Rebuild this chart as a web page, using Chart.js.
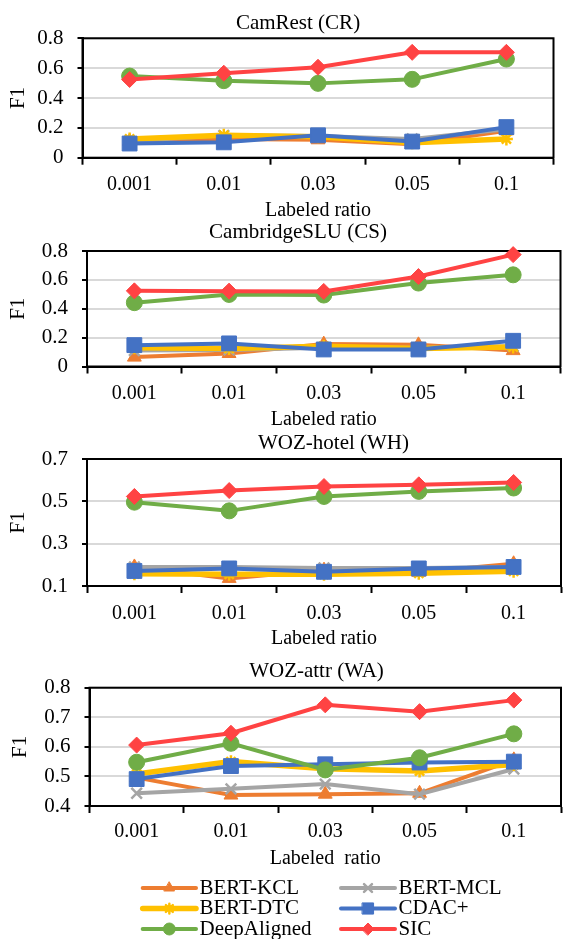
<!DOCTYPE html>
<html>
<head>
<meta charset="utf-8">
<script src="https://cdn.jsdelivr.net/npm/chart.js@4.4.0/dist/chart.umd.min.js"></script>
<style>
html, body { margin:0; padding:0; background:#fff; overflow:hidden; width:563px; height:939px; }
canvas { position:absolute; left:0; }
</style>
</head>
<body>
<canvas id="cr"></canvas>
<canvas id="cs"></canvas>
<canvas id="wh"></canvas>
<canvas id="wa"></canvas>
<script>
var categories = ['0.001', '0.01', '0.03', '0.05', '0.1'];
var seriesNames = ['BERT-KCL', 'BERT-MCL', 'BERT-DTC', 'CDAC+', 'DeepAligned', 'SIC'];

// CamRest (CR)
var kclCR  = [0.11, 0.125, 0.12, 0.09, 0.18];
var mclCR  = [0.11, 0.15, 0.145, 0.125, 0.19];
var dtcCR  = [0.125, 0.15, 0.14, 0.10, 0.125];
var cdacCR = [0.095, 0.103, 0.15, 0.108, 0.205];
var daCR   = [0.547, 0.516, 0.498, 0.525, 0.661];
var sicCR  = [0.524, 0.566, 0.606, 0.706, 0.706];
var yTicksCR = [0, 0.2, 0.4, 0.6, 0.8];

// CambridgeSLU (CS)
var kclCS  = [0.065, 0.09, 0.155, 0.15, 0.11];
var mclCS  = [0.11, 0.115, 0.13, 0.13, 0.14];
var dtcCS  = [0.13, 0.125, 0.14, 0.125, 0.135];
var cdacCS = [0.148, 0.16, 0.118, 0.118, 0.178];
var daCS   = [0.442, 0.499, 0.495, 0.578, 0.635];
var sicCS  = [0.524, 0.522, 0.52, 0.623, 0.775];
var yTicksCS = [0, 0.2, 0.4, 0.6, 0.8];

// WOZ-hotel (WH)
var kclWH  = [0.19, 0.136, 0.175, 0.165, 0.205];
var mclWH  = [0.19, 0.19, 0.185, 0.185, 0.19];
var dtcWH  = [0.158, 0.155, 0.155, 0.16, 0.17];
var cdacWH = [0.171, 0.183, 0.167, 0.183, 0.19];
var daWH   = [0.496, 0.455, 0.523, 0.547, 0.563];
var sicWH  = [0.523, 0.551, 0.570, 0.578, 0.589];
var yTicksWH = [0.1, 0.3, 0.5, 0.7];

// WOZ-attr (WA)
var kclWA  = [0.496, 0.437, 0.44, 0.443, 0.556];
var mclWA  = [0.443, 0.458, 0.474, 0.44, 0.525];
var dtcWA  = [0.508, 0.55, 0.526, 0.518, 0.54];
var cdacWA = [0.491, 0.535, 0.541, 0.547, 0.55];
var daWA   = [0.548, 0.612, 0.522, 0.563, 0.644];
var sicWA  = [0.606, 0.646, 0.742, 0.719, 0.758];
var yTicksWA = [0.4, 0.5, 0.6, 0.7, 0.8];

var colors = ['#ED7D31', '#A5A5A5', '#FFC000', '#4472C4', '#70AD47', '#FF4343'];
var markers = ['triangle', 'crossRot', 'star', 'rect', 'circle', 'rectRot'];
var markerSize = [8, 7.5, 6.5, 10.5, 8, 8];
var lineWidths = [4, 4, 5.5, 4, 4, 4];

var serif = "'Liberation Serif', 'Times New Roman', serif";
Chart.defaults.font.family = serif;
Chart.defaults.color = '#000';

// black frame round the plot area
var boxPlugin = {
  id: 'box',
  beforeDatasetsDraw: function(chart) {
    var a = chart.chartArea, ctx = chart.ctx;
    ctx.save();
    ctx.strokeStyle = '#000';
    ctx.lineWidth = 2;
    ctx.strokeRect(a.left, a.top, a.right - a.left, a.bottom - a.top);
    ctx.restore();
  }
};

// two-column legend under the last panel
var legendPlugin = {
  id: 'bottomLegend',
  afterDraw: function(chart) {
    var ctx = chart.ctx;
    var ds = chart.data.datasets;
    ctx.save();
    ctx.font = '21px ' + serif;
    ctx.textBaseline = 'middle';
    for (let i = 0; i < ds.length; i++) {
      var col = i % 2, row = Math.floor(i / 2);
      var x0 = col ? 341 : 142.7;
      var x1 = col ? 395 : 196;
      var y = 233 + row * 20.5;
      ctx.strokeStyle = ds[i].borderColor;
      ctx.fillStyle = ds[i].borderColor;
      ctx.lineWidth = ds[i].borderWidth;
      ctx.lineCap = 'round';
      ctx.beginPath();
      ctx.moveTo(x0, y);
      ctx.lineTo(x1, y);
      ctx.stroke();
      ctx.lineWidth = ds[i].pointBorderWidth;
      Chart.helpers.drawPoint(ctx, {
        pointStyle: ds[i].pointStyle,
        radius: ds[i].pointRadius * 0.75,
        borderWidth: ds[i].pointBorderWidth,
        rotation: 0
      }, (x0 + x1) / 2, y);
      ctx.fillStyle = '#000';
      ctx.fillText(ds[i].label, x1 + 3.5, y);
    }
    ctx.restore();
  }
};

function makeChart(id, g, title, values, yTicks, withLegend) {
  var cv = document.getElementById(id);
  cv.width = g.w;
  cv.height = g.h;
  cv.style.top = g.top + 'px';
  var datasets = [];
  for (let i = 0; i < values.length; i++) {
    var lineMarker = markers[i] == 'crossRot' || markers[i] == 'star';
    datasets.push({
      label: seriesNames[i],
      data: values[i],
      borderColor: colors[i],
      backgroundColor: colors[i],
      pointBackgroundColor: colors[i],
      pointBorderColor: colors[i],
      borderWidth: lineWidths[i],
      pointStyle: markers[i],
      pointRadius: markerSize[i],
      pointBorderWidth: lineMarker ? 2.5 : 1,
      tension: 0,
      clip: false,
      order: values.length - i
    });
  }
  return new Chart(cv, {
    type: 'line',
    data: { labels: categories, datasets: datasets },
    options: {
      responsive: false,
      animation: false,
      devicePixelRatio: 1,
      layout: { padding: { bottom: g.padBottom || 0 } },
      plugins: {
        legend: { display: false },
        tooltip: { enabled: false },
        title: {
          display: true, text: title, color: '#000',
          font: { size: 21, weight: 'normal' },
          padding: { top: g.tt, bottom: g.tb }
        }
      },
      scales: {
        x: {
          offset: true,
          grid: { offset: true, drawOnChartArea: false, tickLength: 7, tickColor: '#000', tickWidth: 2 },
          border: { color: '#000', width: 2 },
          ticks: { font: { size: 20 }, padding: g.xp, color: '#000', maxRotation: 0, autoSkip: false },
          title: { display: true, text: g.xTitle || 'Labeled ratio', color: '#000', font: { size: 20 }, padding: { bottom: 4 } },
          afterFit: function(s) { s.height = g.xh; }
        },
        y: {
          min: yTicks[0],
          max: yTicks[yTicks.length - 1],
          afterBuildTicks: function(s) { s.ticks = yTicks.map(function(v) { return { value: v }; }); },
          grid: { color: '#D9D9D9', lineWidth: 2, tickColor: '#000', tickLength: 5, tickWidth: 2 },
          border: { color: '#000', width: 2 },
          ticks: { font: { size: 21 }, padding: 14, color: '#000' },
          title: { display: true, text: 'F1', color: '#000', font: { size: 21 }, padding: { top: g.f1 } },
          afterFit: function(s) { s.width = g.left; }
        },
        pad: {
          type: 'linear', position: 'right', display: true,
          grid: { display: false }, border: { display: false }, ticks: { display: false },
          afterFit: function(s) { s.width = g.right; }
        }
      }
    },
    plugins: withLegend ? [boxPlugin, legendPlugin] : [boxPlugin]
  });
}

makeChart('cr', { top: 0, h: 227, w: 596, left: 82.5, right: 42.5, tt: 10.7, tb: 2.4, xh: 69.3, xp: 8.3, f1: 5.4 },
  'CamRest (CR)', [kclCR, mclCR, dtcCR, cdacCR, daCR, sicCR], yTicksCR, false);
makeChart('cs', { top: 215, h: 221, w: 596, left: 87, right: 35.5, tt: 4.4, tb: 6.4, xh: 69.5, xp: 8.5, f1: 5.4 },
  'CambridgeSLU (CS)', [kclCS, mclCS, dtcCS, cdacCS, daCS, sicCS], yTicksCS, false);
makeChart('wh', { top: 426, h: 229, w: 667, left: 87, right: 106, tt: 4.4, tb: 3.4, xh: 69, xp: 9, f1: 5.4 },
  'WOZ-hotel (WH)', [kclWH, mclWH, dtcWH, cdacWH, daWH, sicWH], yTicksWH, false);
makeChart('wa', { top: 655, h: 284, w: 633, left: 89.5, right: 72, tt: 4.1, tb: 3.4, xh: 69, xp: 6.7, f1: 7.4, padBottom: 64, xTitle: 'Labeled  ratio' },
  'WOZ-attr (WA)', [kclWA, mclWA, dtcWA, cdacWA, daWA, sicWA], yTicksWA, true);
</script>
</body>
</html>
